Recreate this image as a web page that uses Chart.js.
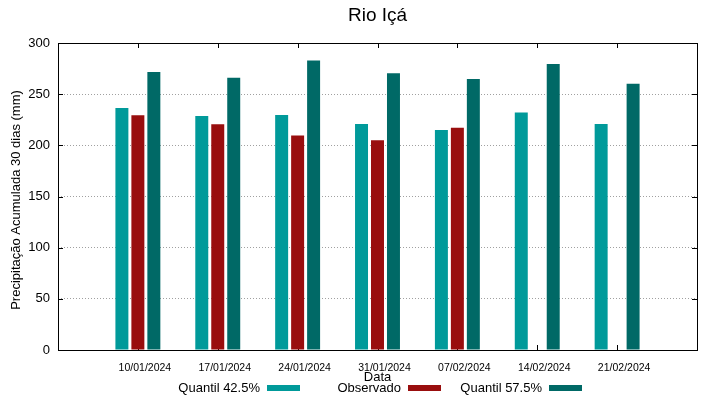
<!DOCTYPE html>
<html>
<head>
<meta charset="utf-8">
<script src="https://cdn.jsdelivr.net/npm/chart.js@4/dist/chart.umd.min.js"></script>
<style>
  html, body { margin: 0; padding: 0; background: #fff; }
  #wrap { width: 719px; height: 399px; position: relative; }
</style>
</head>
<body>
<div id="wrap"><canvas id="c"></canvas></div>
<script>
const dates = ['10/01/2024', '17/01/2024', '24/01/2024', '31/01/2024', '07/02/2024', '14/02/2024', '21/02/2024'];
const quantil425 = [236.5, 228.7, 229.6, 220.9, 215, 232.2, 220.9];
const observado = [229.4, 220.5, 209.5, 204.9, 217.3, null, null];
const quantil575 = [271.7, 266, 282.8, 270.4, 264.8, 279.5, 260.2];
const yTicks = [0, 50, 100, 150, 200, 250, 300];

const FONT = 'Liberation Sans, Arial, sans-serif';

// gnuplot-like x range: one empty slot on each side
const pad = arr => [null, ...arr, null];
const labels = ['', ...dates, ''];

const frame = {
  id: 'frame',
  beforeDatasetsDraw(chart) {
    const { ctx, chartArea: a, scales: { x, y } } = chart;
    ctx.save();
    ctx.strokeStyle = '#000';
    ctx.lineWidth = 1;
    ctx.beginPath();
    for (let i = 1; i <= dates.length; i++) {
      const px = Math.round(x.getPixelForValue(i)) + 0.5;
      ctx.moveTo(px, a.bottom); ctx.lineTo(px, a.bottom - 5);
      ctx.moveTo(px, a.top); ctx.lineTo(px, a.top + 5);
    }
    yTicks.forEach(v => {
      const py = Math.round(y.getPixelForValue(v)) + 0.5;
      ctx.moveTo(a.left, py); ctx.lineTo(a.left + 5, py);
      ctx.moveTo(a.right, py); ctx.lineTo(a.right - 5, py);
    });
    ctx.stroke();
    ctx.restore();
  },
  afterDatasetsDraw(chart) {
    const { ctx, chartArea: a } = chart;
    ctx.save();
    ctx.strokeStyle = '#000';
    ctx.lineWidth = 1;
    ctx.strokeRect(Math.round(a.left) + 0.5, Math.round(a.top) + 0.5,
      Math.round(a.right - a.left), Math.round(a.bottom - a.top));
    ctx.restore();
  },
  afterDraw(chart) {
    const { ctx } = chart;
    ctx.save();
    ctx.fillStyle = '#000';
    ctx.font = '19px ' + FONT;
    ctx.textAlign = 'center';
    ctx.textBaseline = 'middle';
    ctx.fillText('Rio Içá', (chart.chartArea.left + chart.chartArea.right) / 2, 16);

    // y axis label
    ctx.font = '13px ' + FONT;
    ctx.save();
    ctx.translate(16, 200);
    ctx.rotate(-Math.PI / 2);
    ctx.fillText('Precipitação Acumulada 30 dias (mm)', 0, 0);
    ctx.restore();

    // legend, gnuplot style: text then sample
    ctx.textAlign = 'right';
    chart.data.datasets.forEach((ds, i) => {
      const sx = 267 + 141 * i;
      ctx.fillStyle = '#000';
      ctx.fillText(ds.label, sx - 7, 388);
      ctx.fillStyle = ds.backgroundColor;
      ctx.fillRect(sx, 385, 33, 6);
    });
    ctx.restore();
  }
};

new Chart(document.getElementById('c'), {
  type: 'bar',
  data: {
    labels: labels,
    datasets: [
      { label: 'Quantil 42.5%', data: pad(quantil425), backgroundColor: '#009a9a', borderWidth: 0 },
      { label: 'Observado', data: pad(observado), backgroundColor: '#990e0e', borderWidth: 0 },
      { label: 'Quantil 57.5%', data: pad(quantil575), backgroundColor: '#006966', borderWidth: 0 }
    ]
  },
  options: {
    responsive: true,
    maintainAspectRatio: false,
    animation: false,
    layout: { padding: { top: 43, right: 22, left: 0, bottom: 0 } },
    categoryPercentage: 0.6,
    barPercentage: 0.8125,
    plugins: { legend: { display: false }, tooltip: { enabled: false } },
    scales: {
      x: {
        offset: false,
        grid: { display: false, drawTicks: false },
        border: { display: false },
        ticks: {
          autoSkip: false,
          maxRotation: 0,
          padding: 12,
          labelOffset: 7,
          color: '#000',
          font: { family: FONT, size: 10.5 }
        },
        title: {
          display: true, text: 'Data', color: '#000',
          font: { family: FONT, size: 13 },
          padding: { top: 0, bottom: 14 }
        },
        afterFit(s) { s.height = 49; }
      },
      y: {
        min: 0, max: 300,
        afterBuildTicks(s) { s.ticks = yTicks.map(v => ({ value: v })); },
        grid: { color: '#a0a0a0', drawTicks: false, lineWidth: 1 },
        border: { display: false, dash: [1, 2] },
        ticks: {
          padding: 8, color: '#000',
          font: { family: FONT, size: 13 }
        },
        afterFit(s) { s.width = 58; }
      }
    }
  },
  plugins: [frame]
});
</script>
</body>
</html>
